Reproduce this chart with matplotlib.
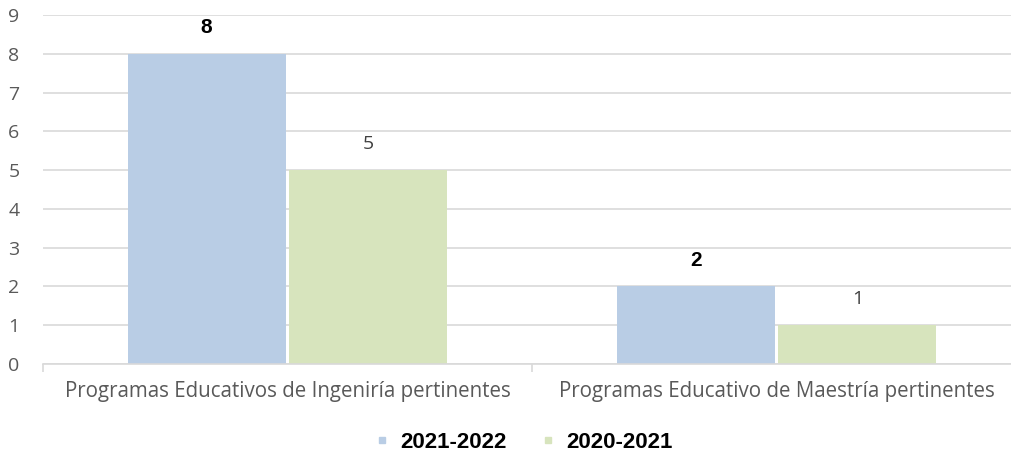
import numpy as np
import matplotlib.pyplot as plt
from matplotlib.lines import Line2D

# datos
categorias = ['Programas Educativos de Ingeniría pertinentes',
              'Programas Educativo de Maestría pertinentes']
serie_2122 = [8, 2]
serie_2021 = [5, 1]
nombres = ['2021-2022', '2020-2021']

c_azul = '#b9cde5'
c_verde = '#d7e4bd'
gris = '#595959'

fig = plt.figure(figsize=(10.12, 4.62), dpi=100)
ax = fig.add_axes([43/1012, 98/462, (1021-43)/1012, 349/462])

x = np.arange(len(categorias))
w = 0.323
gap = 0.008
b1 = ax.bar(x - w/2 - gap/2, serie_2122, w, color=c_azul, zorder=2)
b2 = ax.bar(x + w/2 + gap/2, serie_2021, w, color=c_verde, zorder=2)

for r, v in zip(b1, serie_2122):
    ax.text(r.get_x() + r.get_width()/2, v + 0.68, str(v), ha='center', va='center',
            fontsize=15, fontweight='bold', family='Liberation Sans', color='black')
for r, v in zip(b2, serie_2021):
    ax.text(r.get_x() + r.get_width()/2, v + 0.68, str(v), ha='center', va='center',
            fontsize=14, family='Open Sans', color='#404040')

ax.set_xlim(-0.5, 1.5)
ax.set_ylim(0, 9)
ax.set_yticks(range(0, 10))
ax.grid(axis='y', color='#d9d9d9', linewidth=1.2, zorder=0)
for s in ['top', 'right', 'left']:
    ax.spines[s].set_visible(False)
ax.spines['bottom'].set_color('#d9d9d9')
ax.spines['bottom'].set_linewidth(1.2)
ax.tick_params(axis='y', length=0, labelsize=14, labelcolor=gris, pad=17)
for t in ax.get_yticklabels():
    t.set_family('Open Sans')

# etiquetas de categoría
ax.set_xticks([-0.5, 0.5, 1.5])
ax.set_xticklabels([])
ax.tick_params(axis='x', length=6, color='#d9d9d9', width=1.2)
for i, c in enumerate(categorias):
    ax.text(i, -0.7, c, ha='center', va='center', fontsize=14.8, family='Open Sans',
            color=gris, transform=ax.transData)

handles = [Line2D([], [], marker='s', linestyle='none', markersize=5, color=c_azul),
           Line2D([], [], marker='s', linestyle='none', markersize=5, color=c_verde)]
leg = fig.legend(handles, nombres, loc='center', bbox_to_anchor=(524/1012, 20/462), ncol=2,
                 frameon=False, handlelength=0.6, handletextpad=0.5, columnspacing=1.6,
                 prop={'family': 'Liberation Sans', 'weight': 'bold', 'size': 16})

fig.savefig('out.png', dpi=100)
